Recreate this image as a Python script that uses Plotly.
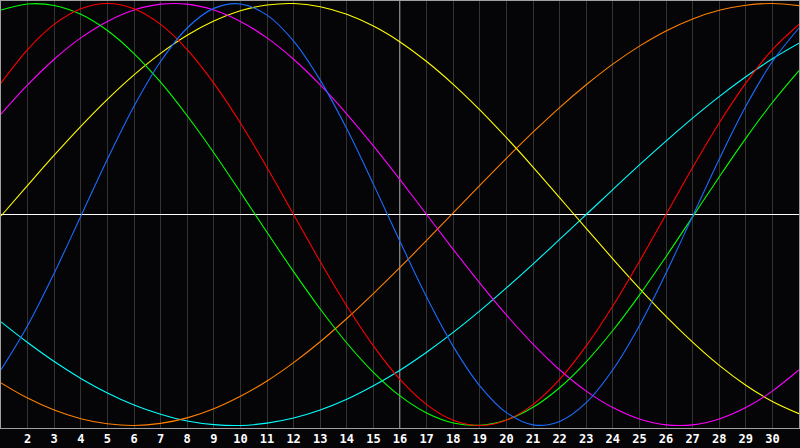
import plotly.graph_objects as go

days = list(range(1, 32))

blue = [-0.736, -0.527, -0.278, -0.008, 0.262, 0.513, 0.725, 0.884, 0.977, 0.998,
        0.945, 0.822, 0.637, 0.406, 0.144, -0.128, -0.391, -0.625, -0.812, -0.939,
        -0.997, -0.981, -0.892, -0.736, -0.527, -0.278, -0.008, 0.262, 0.513, 0.725, 0.884]
red = [0.623, 0.782, 0.901, 0.975, 1.0, 0.975, 0.901, 0.782, 0.623, 0.434,
       0.223, 0.0, -0.223, -0.434, -0.623, -0.782, -0.901, -0.975, -1.0, -0.975,
       -0.901, -0.782, -0.623, -0.434, -0.223, 0.0, 0.223, 0.434, 0.623, 0.782, 0.901]
green = [0.969, 0.998, 0.991, 0.949, 0.872, 0.763, 0.627, 0.468, 0.293, 0.106,
         -0.084, -0.271, -0.448, -0.609, -0.748, -0.860, -0.941, -0.988, -0.999, -0.974,
         -0.914, -0.821, -0.698, -0.550, -0.382, -0.200, -0.011, 0.178, 0.361, 0.531, 0.682]
yellow = [-0.007, 0.138, 0.281, 0.418, 0.546, 0.662, 0.764, 0.850, 0.917, 0.966,
          0.993, 1.000, 0.985, 0.949, 0.893, 0.818, 0.725, 0.617, 0.496, 0.364,
          0.225, 0.080, -0.066, -0.210, -0.350, -0.483, -0.605, -0.715, -0.809, -0.886, -0.944]
magenta = [0.476, 0.614, 0.736, 0.837, 0.915, 0.969, 0.997, 0.997, 0.969, 0.915,
           0.837, 0.736, 0.614, 0.476, 0.325, 0.165, 0.0, -0.165, -0.325, -0.476,
           -0.614, -0.736, -0.837, -0.915, -0.969, -0.997, -0.997, -0.969, -0.915, -0.837, -0.736]
orange = [-0.798, -0.870, -0.927, -0.968, -0.992, -1.000, -0.990, -0.964, -0.921, -0.862,
          -0.789, -0.702, -0.603, -0.493, -0.375, -0.251, -0.123, 0.008, 0.138, 0.266,
          0.390, 0.507, 0.615, 0.713, 0.798, 0.870, 0.927, 0.968, 0.992, 1.000, 0.990]
cyan = [-0.509, -0.607, -0.697, -0.777, -0.846, -0.903, -0.947, -0.979, -0.996, -1.000,
        -0.989, -0.965, -0.927, -0.876, -0.812, -0.738, -0.653, -0.559, -0.457, -0.348,
        -0.235, -0.118, 0.0, 0.118, 0.235, 0.348, 0.457, 0.559, 0.653, 0.738, 0.812]

tick_days = list(range(2, 31))
tick_labels = [str(d) for d in tick_days]
today = 16

series = [
    (cyan, "#00ffff"),
    (orange, "#ff8000"),
    (yellow, "#ffff00"),
    (magenta, "#ff00ff"),
    (green, "#00ff00"),
    (red, "#ff0000"),
    (blue, "#1a6cff"),
]

fig = go.Figure()
for vals, col in series:
    fig.add_trace(go.Scatter(x=days, y=vals, mode="lines",
                             line=dict(color=col, width=1.1, shape="spline", smoothing=1.0),
                             hoverinfo="skip", showlegend=False))

fig.add_shape(type="line", xref="x", yref="paper", x0=today, x1=today, y0=0, y1=1,
              line=dict(color="#ffffff", width=1), layer="between")

fig.update_layout(
    width=800, height=448,
    margin=dict(l=1, r=1, t=1, b=20),
    paper_bgcolor="#050507", plot_bgcolor="#050507",
    showlegend=False,
    xaxis=dict(range=[1, 31], tickvals=tick_days, ticktext=tick_labels,
               showgrid=True, gridcolor="#333333", gridwidth=1,
               zeroline=False, showline=True, linecolor="#a0a0a0", linewidth=1, mirror=True,
               ticks="", tickfont=dict(family="DejaVu Sans Mono", size=12, color="#ffffff", weight="bold")),
    yaxis=dict(range=[-1.012, 1.012], showgrid=False, showticklabels=False,
               zeroline=True, zerolinecolor="#ffffff", zerolinewidth=1,
               showline=True, linecolor="#a0a0a0", linewidth=1, mirror=True, ticks=""),
)

fig.write_html("out.html", config={"displayModeBar": False, "staticPlot": True},
               post_script="document.body.style.margin='0';document.body.style.background='#050507';")
